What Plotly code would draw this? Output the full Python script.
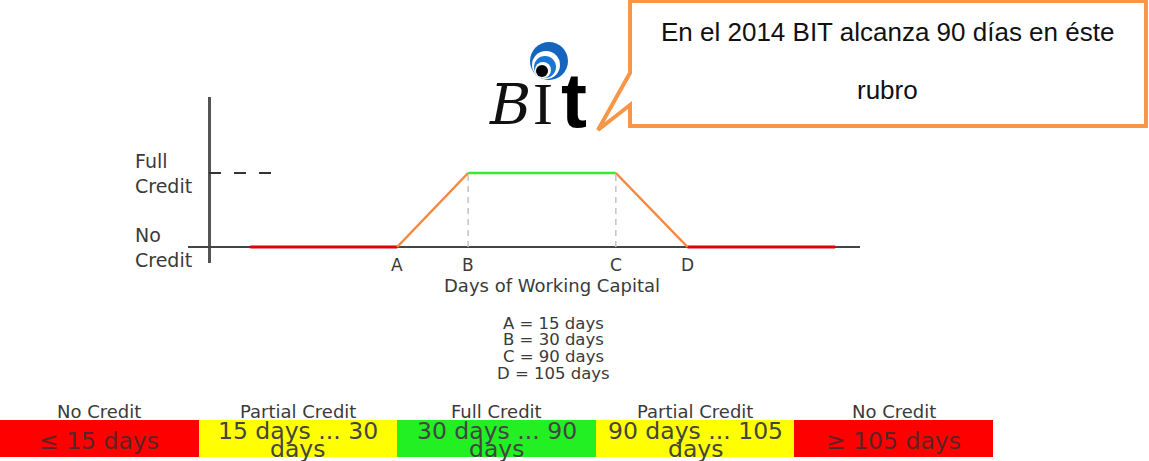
import plotly.graph_objects as go

W, H = 1149, 461

# schematic curve of credit vs days of working capital
point_names = ['A', 'B', 'C', 'D']
point_days = [15, 30, 90, 105]
point_pos = [2.65, 3.65, 5.73, 6.74]   # position of A..D along the (schematic) x axis
line_start = 0.58
line_end = 8.82
no_credit = 0
full_credit = 1

# bottom scale
band_headers = ['No Credit', 'Partial Credit', 'Full Credit', 'Partial Credit', 'No Credit']
band_labels = ['\u2264 15 days', '15 days ... 30<br>days', '30 days ... 90<br>days',
               '90 days ... 105<br>days', '\u2265 105 days']
band_colors = ['#ff0000', '#ffff00', '#22f022', '#ffff00', '#ff0000']
band_text_colors = ['#5a2424', '#444444', '#444444', '#444444', '#5a2424']

callout_lines = ['En el 2014 BIT alcanza 90 días en éste', 'rubro']

red = '#e00000'
orange = '#f7873f'
green = '#33ee33'
txt = '#3a3a3a'
font = 'DejaVu Sans'


def px(x, y):
    return x / W, 1 - y / H


fig = go.Figure()

# flat red parts (no credit)
fig.add_trace(go.Scatter(x=[line_start, point_pos[0]], y=[no_credit, no_credit], mode='lines',
                         line=dict(color=red, width=3), hoverinfo='skip'))
fig.add_trace(go.Scatter(x=[point_pos[3], line_end], y=[no_credit, no_credit], mode='lines',
                         line=dict(color=red, width=3), hoverinfo='skip'))
# ramps (partial credit)
fig.add_trace(go.Scatter(x=[point_pos[0], point_pos[1]], y=[no_credit, full_credit], mode='lines',
                         line=dict(color=orange, width=2.5), hoverinfo='skip'))
fig.add_trace(go.Scatter(x=[point_pos[2], point_pos[3]], y=[full_credit, no_credit], mode='lines',
                         line=dict(color=orange, width=2.5), hoverinfo='skip'))
# plateau (full credit)
fig.add_trace(go.Scatter(x=[point_pos[1], point_pos[2]], y=[full_credit, full_credit], mode='lines',
                         line=dict(color=green, width=2.5), hoverinfo='skip'))
# dashed guides
for p in [point_pos[1], point_pos[2]]:
    fig.add_trace(go.Scatter(x=[p, p], y=[no_credit, full_credit], mode='lines',
                             line=dict(color='#c4c4c4', width=1.5, dash='6px,5px'), hoverinfo='skip'))
fig.add_trace(go.Scatter(x=[0, 0.9], y=[full_credit, full_credit], mode='lines',
                         line=dict(color='#333333', width=2, dash='12px,13px'), hoverinfo='skip'))

# bottom bands
fig.add_trace(go.Bar(x=list(range(len(band_headers))), y=[1] * len(band_headers),
                     marker=dict(color=band_colors, line=dict(width=0)),
                     xaxis='x2', yaxis='y2', hoverinfo='skip'))

ann = []
# y labels
for lab, yv in [('Full<br>Credit', full_credit), ('No<br>Credit', no_credit)]:
    ann.append(dict(x=133 / W, xref='paper', y=yv, yref='y', text=lab, showarrow=False,
                    xanchor='left', yanchor='middle', align='left',
                    font=dict(family=font, size=19, color=txt)))
# point letters
for n, p in zip(point_names, point_pos):
    ann.append(dict(x=p, xref='x', y=px(0, 265)[1], yref='paper', text=n, showarrow=False,
                    xanchor='center', yanchor='middle', font=dict(family=font, size=17, color=txt)))
ax, ay = px(552, 285)
ann.append(dict(x=ax, y=ay, xref='paper', yref='paper', text='Days of Working Capital', showarrow=False,
                xanchor='center', yanchor='middle', font=dict(family=font, size=18, color=txt)))
# key
for i, (n, d) in enumerate(zip(point_names, point_days)):
    kx, ky = px(553, 323 + 16.8 * i)
    ann.append(dict(x=kx, y=ky, xref='paper', yref='paper', text=f'{n} = {d} days', showarrow=False,
                    xanchor='center', yanchor='middle', font=dict(family=font, size=16.5, color=txt)))
# band headers and labels
for i, (hd, lb, tc) in enumerate(zip(band_headers, band_labels, band_text_colors)):
    ann.append(dict(x=i, xref='x2', y=px(0, 411)[1], yref='paper', text=hd, showarrow=False,
                    xanchor='center', yanchor='middle', font=dict(family=font, size=18, color=txt)))
    parts = lb.split('<br>')
    ys = [441] if len(parts) == 1 else [431, 449]
    for t, yy in zip(parts, ys):
        ann.append(dict(x=i, xref='x2', y=px(0, yy)[1], yref='paper', text=t, showarrow=False,
                        xanchor='center', yanchor='middle', font=dict(family=font, size=23.5, color=tc)))

# callout
for t, yy in zip(callout_lines, [32, 90]):
    cx, cy = px(887, yy)
    ann.append(dict(x=cx, y=cy, xref='paper', yref='paper', text=t, showarrow=False,
                    xanchor='center', yanchor='middle',
                    font=dict(family='Liberation Sans', size=26, color='#111111')))

# logo letters
for t, x, y, f in [('<i>B</i>', 510, 104, dict(family='DejaVu Serif', size=56, color='#111111')),
                   ('I', 543, 104, dict(family='Liberation Serif', size=60, color='#111111')),
                   ('<b>t</b>', 574, 100, dict(family='Liberation Sans', size=78, color='#000000'))]:
    lx, ly = px(x, y)
    ann.append(dict(x=lx, y=ly, xref='paper', yref='paper', text=t, showarrow=False,
                    xanchor='center', yanchor='middle', font=f))

shapes = []
pts = [(630, 1), (1146, 1), (1146, 126), (630, 126), (630, 105), (598, 130), (630, 73)]
path = 'M ' + ' L '.join(f'{px(a, b)[0]:.5f},{px(a, b)[1]:.5f}' for a, b in pts) + ' Z'
shapes.append(dict(type='path', path=path, xref='paper', yref='paper',
                   line=dict(color='#f79646', width=4), fillcolor='white', layer='below'))
# logo swirl
for cxp, cyp, r, col in [(549, 61, 19, '#1565c0'), (546, 65, 14, 'white'), (545, 67, 11, '#1976d2'),
                         (543, 70, 8, 'white'), (542, 71, 6, '#000000')]:
    x0, y0 = px(cxp - r, cyp + r)
    x1, y1 = px(cxp + r, cyp - r)
    shapes.append(dict(type='circle', xref='paper', yref='paper', x0=x0, y0=y0, x1=x1, y1=y1,
                       fillcolor=col, line=dict(width=0)))

fig.update_layout(
    width=W, height=H, margin=dict(l=0, r=0, t=0, b=0),
    paper_bgcolor='white', plot_bgcolor='rgba(0,0,0,0)', showlegend=False,
    xaxis=dict(domain=[188 / W, 860 / W], range=[-21 / 71, 651 / 71], showgrid=False,
               showticklabels=False, zeroline=True, zerolinecolor='#555555', zerolinewidth=3),
    yaxis=dict(domain=[1 - 263 / H, 1 - 97 / H], range=[-16 / 74, 150 / 74], showgrid=False,
               showticklabels=False, zeroline=True, zerolinecolor='#444444', zerolinewidth=2),
    xaxis2=dict(domain=[0, 993 / W], range=[-0.5, 4.5], visible=False, anchor='y2'),
    yaxis2=dict(domain=[1 - 457 / H, 1 - 420 / H], range=[0, 1], visible=False, anchor='x2'),
    bargap=0,
    annotations=ann, shapes=shapes,
)

fig.write_html('out.html', config={'displayModeBar': False},
               post_script="document.body.style.margin='0';document.body.style.overflow='hidden';")
